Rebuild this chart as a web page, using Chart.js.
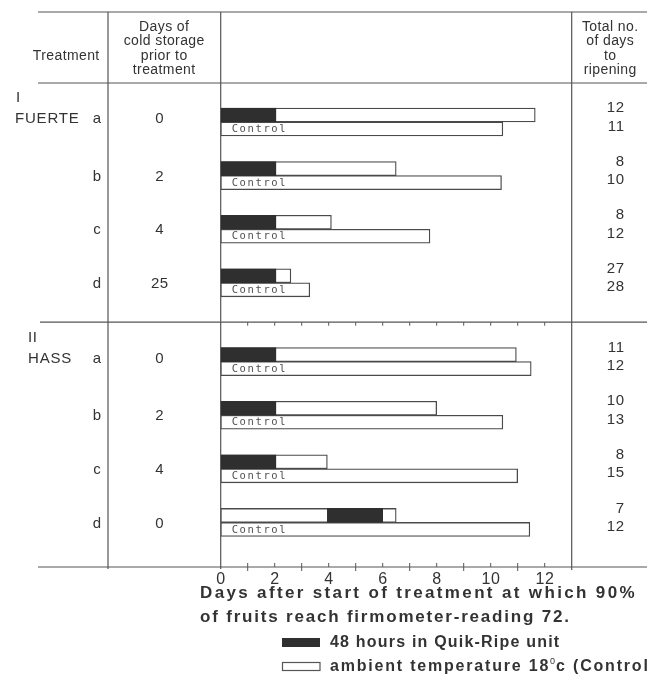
<!DOCTYPE html>
<html><head><meta charset="utf-8">
<script src="https://cdn.jsdelivr.net/npm/chart.js@4.4.0/dist/chart.umd.min.js"></script>
<style>html,body{margin:0;padding:0;background:#fff;}#wrap{width:647px;height:687px;position:relative;}</style>
</head><body><div id="wrap"><canvas id="c" width="647" height="687"></canvas></div>
<script>
// ---- data ----
const cultivars = ['FUERTE', 'HASS'];
const cultivarNumerals = ['I', 'II'];
const rowLetters = ['a', 'b', 'c', 'd'];
const fuerteColdStorage = [0, 2, 4, 25];
const hassColdStorage = [0, 2, 4, 0];
const fuerteQuikStart = [0, 0, 0, 0];
const fuerteQuikEnd = [2.05, 2.05, 2.05, 2.05];
const hassQuikStart = [0, 0, 0, 3.95];
const hassQuikEnd = [2.05, 2.05, 2.05, 6.0];
const fuerteTreatEnd = [11.65, 6.5, 4.1, 2.6];
const hassTreatEnd = [10.95, 8.0, 3.95, 6.5];
const fuerteControlEnd = [10.45, 10.4, 7.75, 3.3];
const hassControlEnd = [11.5, 10.45, 11.0, 11.45];
const fuerteTotalTreat = [12, 8, 8, 27];
const fuerteTotalControl = [11, 10, 12, 28];
const hassTotalTreat = [11, 10, 8, 7];
const hassTotalControl = [12, 13, 15, 12];
const xTickLabels = [0, 2, 4, 6, 8, 10, 12];
const xMax = 13;

// ---- layout constants ----
const TOP_OFFSET = 0.728, EXTRA_GAP = 0.47, Y_MAX = 9.03;
const groups = [
  {name: cultivars[0], num: cultivarNumerals[0], cold: fuerteColdStorage, qs: fuerteQuikStart, qe: fuerteQuikEnd, te: fuerteTreatEnd, ce: fuerteControlEnd, tt: fuerteTotalTreat, tc: fuerteTotalControl},
  {name: cultivars[1], num: cultivarNumerals[1], cold: hassColdStorage, qs: hassQuikStart, qe: hassQuikEnd, te: hassTreatEnd, ce: hassControlEnd, tt: hassTotalTreat, tc: hassTotalControl}
];
const rows = [];
groups.forEach((g, gi) => rowLetters.forEach((l, i) => rows.push({g: gi, i, pos: TOP_OFFSET + gi * (4 + EXTRA_GAP) + i})));

const INK = '#333333', LINE = '#555555', DARK = '#2f2f2f';
const FONT = '"Liberation Sans", Arial, Helvetica, sans-serif';

function txt(ctx, s, x, y, font, align, spacing) {
  ctx.font = font;
  ctx.textAlign = align || 'left';
  ctx.textBaseline = 'middle';
  ctx.letterSpacing = (spacing || 0) + 'px';
  let dx = 0;
  if (spacing && align === 'center') dx = spacing / 2;
  if (spacing && align === 'right') dx = spacing;
  ctx.fillText(s, x + dx, y);
  ctx.letterSpacing = '0px';
}
function hline(ctx, x1, x2, y) { ctx.beginPath(); ctx.moveTo(x1, y); ctx.lineTo(x2, y); ctx.stroke(); }
function vline(ctx, x, y1, y2) { ctx.beginPath(); ctx.moveTo(x, y1); ctx.lineTo(x, y2); ctx.stroke(); }

const tablePlugin = {
  id: 'table',
  beforeDatasetsDraw(chart) {
    const ctx = chart.ctx, a = chart.chartArea, xs = chart.scales.x, ys = chart.scales.y;
    ctx.save();
    ctx.strokeStyle = LINE; ctx.lineWidth = 1.2;
    const top = 12;
    const yDiv = ys.getPixelForValue(TOP_OFFSET + 3.5 + EXTRA_GAP / 2);
    hline(ctx, 38, 647, top);
    hline(ctx, 38, 647, a.top);
    hline(ctx, 40, 647, yDiv);
    hline(ctx, 38, 647, a.bottom);
    vline(ctx, 108, top, a.bottom + 2);
    vline(ctx, a.left, top, a.bottom + 2);
    vline(ctx, a.right, top, a.bottom + 3);
    ctx.lineWidth = 1;
    for (let v = 1; v < xMax; v++) {
      const px = xs.getPixelForValue(v);
      vline(ctx, px, yDiv, yDiv + 3.5);
      vline(ctx, px, a.bottom - 4, a.bottom);
      if (v % 2 === 1) vline(ctx, px, a.bottom, a.bottom + 4);
    }
    ctx.restore();
  },
  afterDraw(chart) {
    const ctx = chart.ctx, a = chart.chartArea, xs = chart.scales.x, ys = chart.scales.y;
    ctx.save();
    ctx.fillStyle = INK;
    // header
    const h = '14px ' + FONT;
    txt(ctx, 'Treatment', 66, 56.5, h, 'center', 0.4);
    ['Days of', 'cold storage', 'prior to', 'treatment'].forEach((s, k) => txt(ctx, s, 164, 27 + k * 14.5, h, 'center', 0.4));
    ['Total no.', 'of days', 'to', 'ripening'].forEach((s, k) => txt(ctx, s, 610, 27 + k * 14.5, h, 'center', 0.4));
    // rows
    const f = '15px ' + FONT;
    groups.forEach((g, gi) => {
      const yA = ys.getPixelForValue(TOP_OFFSET + gi * (4 + EXTRA_GAP));
      const left = gi === 0 ? 15 : 28;
      txt(ctx, g.num, left + (gi === 0 ? 1 : 0), yA - 24, f, 'left', 0.5);
      txt(ctx, g.name, left, yA - 3, f, 'left', 0.8);
    });
    rows.forEach(r => {
      const g = groups[r.g];
      const y = ys.getPixelForValue(r.pos);
      txt(ctx, rowLetters[r.i], 97, y + (r.i === 0 ? -3 : 1), f, 'center', 0);
      txt(ctx, String(g.cold[r.i]), 159.5, y + (r.i === 0 ? -3 : 1), f, 'center', 0.5);
      txt(ctx, String(g.tt[r.i]), 624, y - 14, f, 'right', 0.6);
      txt(ctx, String(g.tc[r.i]), 624, y + 4.5, f, 'right', 0.6);
      ctx.fillStyle = '#505050';
      txt(ctx, 'Control', xs.getPixelForValue(0) + 11, y + 7.5, '10.5px "DejaVu Sans Mono", monospace', 'left', 1.6);
      ctx.fillStyle = INK;
    });
    // x tick labels
    xTickLabels.forEach(v => txt(ctx, String(v), xs.getPixelForValue(v), a.bottom + 13, '16px ' + FONT, 'center', 0.8));
    // title
    const b = 'bold 17px ' + FONT;
    txt(ctx, 'Days after start of treatment at which 90%', 200, 593.5, b, 'left', 2.35);
    txt(ctx, 'of fruits reach firmometer-reading 72.', 200, 617, b, 'left', 1.8);
    // legend
    const ds = chart.data.datasets;
    ctx.fillStyle = DARK;
    ctx.fillRect(282, 638, 38, 9);
    ctx.strokeStyle = LINE; ctx.lineWidth = 1.2;
    ctx.strokeRect(282.5, 662.5, 37.5, 8);
    ctx.fillStyle = INK;
    const lb = 'bold 16px ' + FONT;
    txt(ctx, ds[0].label, 330, 643, lb, 'left', 1.2);
    let x = 330;
    ctx.font = lb; ctx.letterSpacing = '1.8px';
    const p1 = 'ambient temperature 18';
    ctx.textAlign = 'left'; ctx.textBaseline = 'middle';
    ctx.fillText(p1, x, 667); x += ctx.measureText(p1).width;
    ctx.font = '9px ' + FONT; ctx.letterSpacing = '0px';
    ctx.fillText('0', x, 662); x += ctx.measureText('0').width + 1;
    ctx.font = lb; ctx.letterSpacing = '1.8px';
    ctx.fillText('c (Control)', x, 667);
    ctx.letterSpacing = '0px';
    ctx.restore();
  }
};

const barCommon = {borderSkipped: false, barThickness: 14, grouped: true};
new Chart(document.getElementById('c'), {
  type: 'bar',
  data: {
    datasets: [
      Object.assign({label: '48 hours in Quik-Ripe unit', stack: 'T',
        data: rows.map(r => ({y: r.pos, x: [groups[r.g].qs[r.i], groups[r.g].qe[r.i]]})),
        backgroundColor: DARK, borderColor: DARK, borderWidth: 1}, barCommon),
      Object.assign({label: 'ambient temperature 18°c', stack: 'T',
        data: rows.map(r => ({y: r.pos, x: [0, groups[r.g].te[r.i]]})),
        backgroundColor: '#ffffff', borderColor: '#4a4a4a', borderWidth: 1.3}, barCommon),
      Object.assign({label: 'Control', stack: 'C',
        data: rows.map(r => ({y: r.pos, x: [0, groups[r.g].ce[r.i]]})),
        backgroundColor: '#ffffff', borderColor: '#4a4a4a', borderWidth: 1.3}, barCommon)
    ]
  },
  options: {
    indexAxis: 'y', responsive: false, animation: false, devicePixelRatio: 1,
    layout: {padding: {left: 220.7, right: 647 - 571.7, top: 83, bottom: 687 - 567}},
    scales: {
      x: {type: 'linear', min: 0, max: xMax, display: false, stacked: false, offset: false},
      y: {type: 'linear', min: 0, max: Y_MAX, reverse: true, display: false, offset: false}
    },
    plugins: {legend: {display: false}, tooltip: {enabled: false}}
  },
  plugins: [tablePlugin]
});
</script></body></html>
